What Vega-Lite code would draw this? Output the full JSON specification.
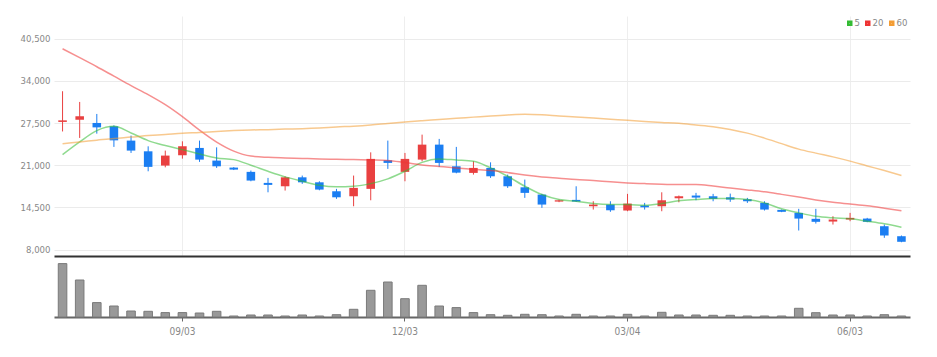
{
  "$schema": "https://vega.github.io/schema/vega-lite/v6.json",
  "padding": {"left": 5, "top": 16, "right": 5, "bottom": 5},
  "background": "white",
  "spacing": 5,
  "config": {
    "view": {"stroke": null},
    "font": "DejaVu Sans Condensed",
    "axis": {"labelFont": "DejaVu Sans Condensed", "labelFontSize": 9.5, "labelColor": "#888", "title": null},
    "legend": {"labelFont": "DejaVu Sans Condensed"}
  },
  "datasets": {
    "w": [
      {"date": "07/16", "open": 27670, "high": 32400, "low": 26200, "close": 27910, "volume": 5340000, "ma5": 22630, "ma20": 38950, "ma60": 24320},
      {"date": "07/23", "open": 28020, "high": 30750, "low": 25200, "close": 28530, "volume": 3700000, "ma5": 24590, "ma20": 37570, "ma60": 24590},
      {"date": "07/30", "open": 27510, "high": 28900, "low": 25860, "close": 26830, "volume": 1440000, "ma5": 26330, "ma20": 36180, "ma60": 24860},
      {"date": "08/06", "open": 26990, "high": 27140, "low": 23820, "close": 24830, "volume": 1100000, "ma5": 26990, "ma20": 34720, "ma60": 25130},
      {"date": "08/13", "open": 24790, "high": 25560, "low": 22890, "close": 23250, "volume": 600000, "ma5": 25970, "ma20": 33260, "ma60": 25330},
      {"date": "08/20", "open": 23140, "high": 23910, "low": 20060, "close": 20740, "volume": 570000, "ma5": 24790, "ma20": 31870, "ma60": 25560},
      {"date": "08/27", "open": 20940, "high": 23250, "low": 20670, "close": 22480, "volume": 440000, "ma5": 24020, "ma20": 30330, "ma60": 25740},
      {"date": "09/03", "open": 22520, "high": 24680, "low": 22010, "close": 23910, "volume": 440000, "ma5": 23400, "ma20": 28480, "ma60": 25940},
      {"date": "09/10", "open": 23660, "high": 24790, "low": 21510, "close": 21860, "volume": 400000, "ma5": 22740, "ma20": 26400, "ma60": 26050},
      {"date": "09/17", "open": 21710, "high": 23750, "low": 20580, "close": 20830, "volume": 570000, "ma5": 22120, "ma20": 24560, "ma60": 26200},
      {"date": "09/24", "open": 20630, "high": 20700, "low": 20250, "close": 20320, "volume": 100000, "ma5": 21860, "ma20": 23170, "ma60": 26330},
      {"date": "10/01", "open": 19970, "high": 20170, "low": 18520, "close": 18630, "volume": 200000, "ma5": 21000, "ma20": 22400, "ma60": 26430},
      {"date": "10/08", "open": 18270, "high": 19040, "low": 16820, "close": 17960, "volume": 200000, "ma5": 20060, "ma20": 22210, "ma60": 26480},
      {"date": "10/15", "open": 17750, "high": 19290, "low": 17090, "close": 19130, "volume": 100000, "ma5": 19200, "ma20": 22120, "ma60": 26560},
      {"date": "10/22", "open": 19130, "high": 19400, "low": 18120, "close": 18360, "volume": 200000, "ma5": 18520, "ma20": 22050, "ma60": 26630},
      {"date": "10/29", "open": 18360, "high": 18520, "low": 17130, "close": 17240, "volume": 100000, "ma5": 17900, "ma20": 21970, "ma60": 26740},
      {"date": "11/05", "open": 16980, "high": 17350, "low": 15810, "close": 16050, "volume": 230000, "ma5": 17660, "ma20": 21910, "ma60": 26900},
      {"date": "11/12", "open": 16210, "high": 19400, "low": 14670, "close": 17500, "volume": 770000, "ma5": 17750, "ma20": 21860, "ma60": 27020},
      {"date": "11/19", "open": 17350, "high": 22980, "low": 15590, "close": 21970, "volume": 2670000, "ma5": 18160, "ma20": 21810, "ma60": 27200},
      {"date": "11/26", "open": 21750, "high": 24790, "low": 20430, "close": 21350, "volume": 3500000, "ma5": 18890, "ma20": 21740, "ma60": 27440},
      {"date": "12/03", "open": 19970, "high": 22890, "low": 18520, "close": 21970, "volume": 1830000, "ma5": 20060, "ma20": 21400, "ma60": 27670},
      {"date": "12/10", "open": 21860, "high": 25710, "low": 21600, "close": 24170, "volume": 3170000, "ma5": 21440, "ma20": 21040, "ma60": 27870},
      {"date": "12/17", "open": 24170, "high": 25050, "low": 20740, "close": 21350, "volume": 1100000, "ma5": 21970, "ma20": 20810, "ma60": 28050},
      {"date": "12/24", "open": 20830, "high": 23820, "low": 19750, "close": 19850, "volume": 940000, "ma5": 21800, "ma20": 20580, "ma60": 28240},
      {"date": "12/31", "open": 19810, "high": 21600, "low": 19550, "close": 20580, "volume": 440000, "ma5": 21600, "ma20": 20370, "ma60": 28410},
      {"date": "01/07", "open": 20580, "high": 21440, "low": 19040, "close": 19290, "volume": 230000, "ma5": 20580, "ma20": 20170, "ma60": 28590},
      {"date": "01/14", "open": 19290, "high": 19550, "low": 17500, "close": 17750, "volume": 170000, "ma5": 19290, "ma20": 19860, "ma60": 28740},
      {"date": "01/21", "open": 17590, "high": 18780, "low": 15960, "close": 16730, "volume": 270000, "ma5": 17750, "ma20": 19470, "ma60": 28840},
      {"date": "01/28", "open": 16470, "high": 16580, "low": 14420, "close": 14930, "volume": 230000, "ma5": 16470, "ma20": 19170, "ma60": 28760},
      {"date": "02/04", "open": 15390, "high": 15700, "low": 15300, "close": 15590, "volume": 100000, "ma5": 15700, "ma20": 18980, "ma60": 28590},
      {"date": "02/11", "open": 15650, "high": 17750, "low": 15350, "close": 15390, "volume": 270000, "ma5": 15440, "ma20": 18780, "ma60": 28440},
      {"date": "02/18", "open": 14670, "high": 15440, "low": 14160, "close": 14930, "volume": 100000, "ma5": 15080, "ma20": 18630, "ma60": 28280},
      {"date": "02/25", "open": 14930, "high": 15440, "low": 13810, "close": 14050, "volume": 100000, "ma5": 14930, "ma20": 18430, "ma60": 28100},
      {"date": "03/04", "open": 14010, "high": 16580, "low": 13900, "close": 15080, "volume": 270000, "ma5": 14930, "ma20": 18270, "ma60": 27910},
      {"date": "03/11", "open": 14780, "high": 15190, "low": 14160, "close": 14510, "volume": 100000, "ma5": 14820, "ma20": 18160, "ma60": 27740},
      {"date": "03/18", "open": 14670, "high": 16820, "low": 13900, "close": 15590, "volume": 470000, "ma5": 15080, "ma20": 18060, "ma60": 27590},
      {"date": "03/25", "open": 15900, "high": 16320, "low": 15280, "close": 16210, "volume": 200000, "ma5": 15500, "ma20": 18010, "ma60": 27450},
      {"date": "04/01", "open": 16320, "high": 16730, "low": 15590, "close": 16010, "volume": 200000, "ma5": 15700, "ma20": 18010, "ma60": 27200},
      {"date": "04/08", "open": 16210, "high": 16580, "low": 15440, "close": 15810, "volume": 170000, "ma5": 15850, "ma20": 17780, "ma60": 26940},
      {"date": "04/15", "open": 16050, "high": 16620, "low": 15350, "close": 15700, "volume": 170000, "ma5": 15850, "ma20": 17470, "ma60": 26510},
      {"date": "04/22", "open": 15750, "high": 15960, "low": 15190, "close": 15440, "volume": 100000, "ma5": 15700, "ma20": 17190, "ma60": 25940},
      {"date": "04/29", "open": 15190, "high": 15440, "low": 14010, "close": 14160, "volume": 100000, "ma5": 15190, "ma20": 16890, "ma60": 25170},
      {"date": "05/06", "open": 14110, "high": 14160, "low": 13760, "close": 13810, "volume": 100000, "ma5": 14270, "ma20": 16500, "ma60": 24320},
      {"date": "05/13", "open": 13650, "high": 14270, "low": 10930, "close": 12770, "volume": 870000, "ma5": 13650, "ma20": 16090, "ma60": 23480},
      {"date": "05/20", "open": 12730, "high": 14270, "low": 12000, "close": 12270, "volume": 430000, "ma5": 13130, "ma20": 15650, "ma60": 22860},
      {"date": "05/27", "open": 12310, "high": 13130, "low": 11850, "close": 12620, "volume": 200000, "ma5": 12880, "ma20": 15280, "ma60": 22280},
      {"date": "06/03", "open": 12620, "high": 13650, "low": 12360, "close": 12880, "volume": 200000, "ma5": 12730, "ma20": 15010, "ma60": 21630},
      {"date": "06/10", "open": 12770, "high": 12880, "low": 12200, "close": 12270, "volume": 100000, "ma5": 12360, "ma20": 14730, "ma60": 20890},
      {"date": "06/17", "open": 11590, "high": 11850, "low": 9800, "close": 10160, "volume": 230000, "ma5": 11960, "ma20": 14360, "ma60": 20170},
      {"date": "06/24", "open": 10050, "high": 10160, "low": 9120, "close": 9190, "volume": 100000, "ma5": 11430, "ma20": 13960, "ma60": 19400}
    ]
  },
  "vconcat": [
    {
      "width": 856,
      "height": 240,
      "data": {"name": "w"},
      "layer": [
        {
          "mark": {"type": "rule", "strokeWidth": 1},
          "encoding": {
            "x": {"field": "date", "type": "ordinal", "sort": null, "scale": {"paddingInner": 0.5, "paddingOuter": 0.25},
              "axis": {"orient": "bottom", "labels": false, "ticks": false, "domain": true, "domainColor": "#333", "domainWidth": 2, "grid": true, "gridColor": "#eeeeee", "values": ["09/03", "12/03", "03/04", "06/03"], "bandPosition": 0.5, "title": null}},
            "y": {"field": "low", "type": "quantitative", "scale": {"domain": [7000, 44000], "nice": false, "zero": false},
              "axis": {"values": [8000, 14500, 21000, 27500, 34000, 40500], "format": ",d", "domain": false, "ticks": false, "labelPadding": 4, "minExtent": 49, "maxExtent": 49, "gridColor": "#ebebeb", "title": null}},
            "y2": {"field": "high"},
            "color": {"condition": {"test": "datum.close >= datum.open", "value": "#e94040"}, "value": "#1b7ef2"}
          }
        },
        {
          "mark": {"type": "bar"},
          "encoding": {
            "x": {"field": "date", "type": "ordinal", "sort": null, "scale": {"paddingInner": 0.5, "paddingOuter": 0.25},
              "axis": {"orient": "bottom", "labels": false, "ticks": false, "domain": true, "domainColor": "#333", "domainWidth": 2, "grid": true, "gridColor": "#eeeeee", "values": ["09/03", "12/03", "03/04", "06/03"], "bandPosition": 0.5, "title": null}},
            "y": {"field": "open", "type": "quantitative", "scale": {"domain": [7000, 44000], "nice": false, "zero": false},
              "axis": {"values": [8000, 14500, 21000, 27500, 34000, 40500], "format": ",d", "domain": false, "ticks": false, "labelPadding": 4, "minExtent": 49, "maxExtent": 49, "gridColor": "#ebebeb", "title": null}},
            "y2": {"field": "close"},
            "color": {"condition": {"test": "datum.close >= datum.open", "value": "#e94040"}, "value": "#1b7ef2"}
          }
        },
        {
          "transform": [{"fold": ["ma5", "ma20", "ma60"], "as": ["ma", "value"]}],
          "mark": {"type": "line", "interpolate": "monotone", "strokeWidth": 1.5, "opacity": 0.55},
          "encoding": {
            "x": {"field": "date", "type": "ordinal", "sort": null, "scale": {"paddingInner": 0.5, "paddingOuter": 0.25},
              "axis": {"orient": "bottom", "labels": false, "ticks": false, "domain": true, "domainColor": "#333", "domainWidth": 2, "grid": true, "gridColor": "#eeeeee", "values": ["09/03", "12/03", "03/04", "06/03"], "bandPosition": 0.5, "title": null}},
            "y": {"field": "value", "type": "quantitative", "scale": {"domain": [7000, 44000], "nice": false, "zero": false},
              "axis": {"values": [8000, 14500, 21000, 27500, 34000, 40500], "format": ",d", "domain": false, "ticks": false, "labelPadding": 4, "minExtent": 49, "maxExtent": 49, "gridColor": "#ebebeb", "title": null}},
            "color": {"field": "ma", "type": "nominal",
              "scale": {"domain": ["ma5", "ma20", "ma60"], "range": ["#33bb33", "#ee3333", "#f39c33"]},
              "legend": {"title": null, "orient": "top-right", "direction": "horizontal", "offset": 2, "padding": 0,
                "symbolType": "square", "symbolSize": 9, "symbolStrokeWidth": 2.5, "symbolOpacity": 1,
                "labelFontSize": 9.5, "labelColor": "#888", "labelOffset": 0, "columnPadding": 1,
                "labelExpr": "replace(datum.label, 'ma', '')",
                "encode": {"symbols": {"update": {"opacity": {"value": 1}, "strokeOpacity": {"value": 1}}}}}
            }
          }
        }
      ]
    },
    {
      "width": 856,
      "height": 56,
      "data": {"name": "w"},
      "mark": {"type": "bar", "color": "#999999", "stroke": "#7a7a7a", "strokeWidth": 1},
      "encoding": {
        "x": {"field": "date", "type": "ordinal", "sort": null, "scale": {"paddingInner": 0.5, "paddingOuter": 0.25},
          "axis": {"values": ["09/03", "12/03", "03/04", "06/03"], "labelAngle": 0, "ticks": true, "tickSize": 4, "tickColor": "#666", "domainColor": "#666", "domainWidth": 2, "grid": false, "labelPadding": 5, "labelColor": "#888", "labelFontSize": 10, "bandPosition": 0.5, "title": null}},
        "y": {"field": "volume", "type": "quantitative", "scale": {"domain": [0, 5600000], "nice": false}, "axis": null}
      }
    }
  ],
  "resolve": {"legend": {"color": "independent"}}
}
